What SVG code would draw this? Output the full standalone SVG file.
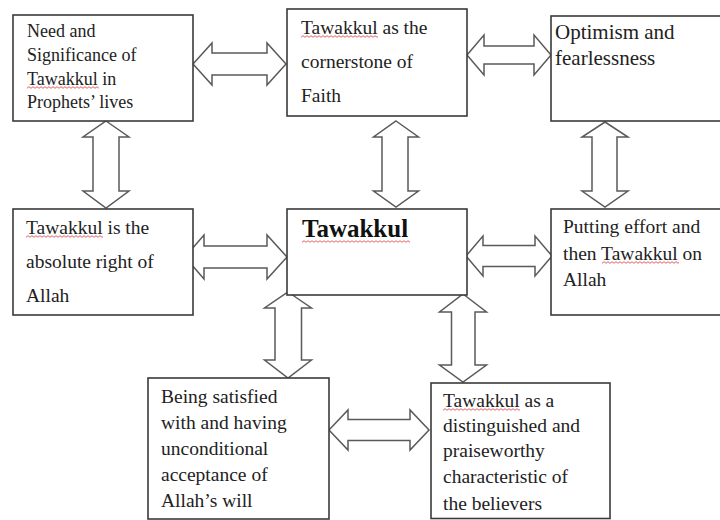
<svg xmlns="http://www.w3.org/2000/svg" width="720" height="520" viewBox="0 0 720 520">
<style>
.box{fill:#fff;stroke:#3a3a3a;stroke-width:1.6}
.arr{fill:#fff;stroke:#5a5a5a;stroke-width:1.5;stroke-linejoin:miter}
.t{font-family:"Liberation Serif","Times New Roman",serif;fill:#222}
.s18{font-size:18px}.s19{font-size:19.5px}.s21{font-size:21px}
.b{font-size:25px;font-weight:bold;fill:#111}
.sq{fill:url(#wavy)}
</style>
<defs>
<pattern id="wavy" patternUnits="userSpaceOnUse" x="0" y="0" width="4" height="3">
<polyline points="0,2.3 2,0.7 4,2.3" fill="none" stroke="#d83a3a" stroke-width="0.8"/>
</pattern>
</defs>
<rect width="720" height="520" fill="#fff"/>

<g id="connectors">
<polygon class="arr" points="193,64 212,43 212,53 267,53 267,43 286,64 267,85 267,75 212,75 212,85"/>
<polygon class="arr" points="467,55 484,35 484,46 534,46 534,35 551,55 534,75 534,64 484,64 484,75"/>
<polygon class="arr" points="185,257 204,235 204,246 267,246 267,235 287,257 267,279 267,268 204,268 204,279"/>
<polygon class="arr" points="466,256 483,236 483,245.5 535,245.5 535,236 552,256 535,276 535,266.5 483,266.5 483,276"/>
<polygon class="arr" points="329,430 348,410 348,419.5 410,419.5 410,410 429,430 410,450 410,440.5 348,440.5 348,450"/>
<polygon class="arr" points="106,121 129,137 119,137 119,191 129,191 106,208 83,191 93,191 93,137 83,137"/>
<polygon class="arr" points="396,121 418.5,137 408,137 408,191 418.5,191 396,207 373.5,191 382,191 382,137 373.5,137"/>
<polygon class="arr" points="605,122 628,137 617,137 617,191 628,191 605,207 582,191 592,191 592,137 582,137"/>
<polygon class="arr" points="288,292 311.5,308 301.5,308 301.5,360 311.5,360 288,378 264.5,360 275,360 275,308 264.5,308"/>
<polygon class="arr" points="463,294 486.5,312 475,312 475,365 486.5,365 463,382 439.5,365 451.5,365 451.5,312 439.5,312"/>
</g>

<g id="n1">
<rect class="box" x="13" y="15" width="180" height="106"/>
<text class="t s18" x="27" y="37">Need and</text>
<text class="t s18" x="27" y="61">Significance of</text>
<text class="t s18" x="27" y="85">Tawakkul in</text>
<text class="t s18" x="27" y="108">Prophets’ lives</text>
<g transform="translate(27,86)"><rect class="sq" width="72" height="3"/></g>
</g>

<g id="n2">
<rect class="box" x="287" y="9" width="180" height="107"/>
<text class="t s19" x="301" y="34">Tawakkul as the</text>
<text class="t s19" x="301" y="68">cornerstone of</text>
<text class="t s19" x="301" y="102">Faith</text>
<g transform="translate(301,35)"><rect class="sq" width="77" height="3"/></g>
</g>

<g id="n3">
<rect class="box" x="551" y="16" width="172" height="105"/>
<text class="t s21" x="555" y="39">Optimism and</text>
<text class="t s21" x="555" y="65">fearlessness</text>
</g>

<g id="n4">
<rect class="box" x="13" y="209" width="180" height="106"/>
<text class="t s19" x="26" y="234">Tawakkul is the</text>
<text class="t s19" x="26" y="268">absolute right of</text>
<text class="t s19" x="26" y="302">Allah</text>
<g transform="translate(26,235)"><rect class="sq" width="77" height="3"/></g>
</g>

<g id="center">
<rect class="box" x="287" y="209" width="180" height="86"/>
<text class="t b" x="302" y="237">Tawakkul</text>
<g transform="translate(302,240)"><rect class="sq" width="108" height="3"/></g>
</g>

<g id="n5">
<rect class="box" x="551" y="209" width="172" height="106"/>
<text class="t s19" x="563" y="233">Putting effort and</text>
<text class="t s19" x="563" y="260">then Tawakkul on</text>
<text class="t s19" x="563" y="286">Allah</text>
<g transform="translate(602,261)"><rect class="sq" width="77" height="3"/></g>
</g>

<g id="n6">
<rect class="box" x="148" y="378" width="181" height="141"/>
<text class="t s19" x="161" y="403">Being satisfied</text>
<text class="t s19" x="161" y="429">with and having</text>
<text class="t s19" x="161" y="455">unconditional</text>
<text class="t s19" x="161" y="481">acceptance of</text>
<text class="t s19" x="161" y="507">Allah’s will</text>
</g>

<g id="n7">
<rect class="box" x="431" y="383" width="179" height="135.5"/>
<text class="t s19" x="443" y="407">Tawakkul as a</text>
<text class="t s19" x="443" y="432">distinguished and</text>
<text class="t s19" x="443" y="457">praiseworthy</text>
<text class="t s19" x="443" y="483">characteristic of</text>
<text class="t s19" x="443" y="510">the believers</text>
<g transform="translate(443,408)"><rect class="sq" width="77" height="3"/></g>
</g>
</svg>
